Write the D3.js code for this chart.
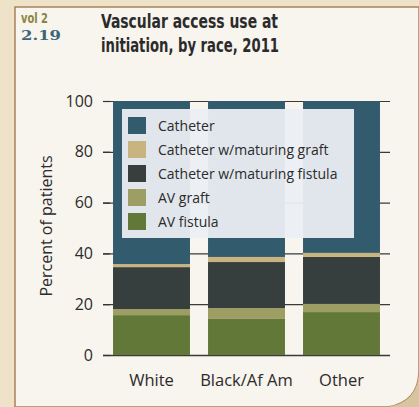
<!DOCTYPE html>
<html>
<head>
<meta charset="utf-8">
<script src="https://cdn.jsdelivr.net/npm/d3@7"></script>
<style>
  body { margin: 0; background: #eee2c9; }
  svg { display: block; }
</style>
</head>
<body>
<div id="chart"></div>
<script>
var races = ["White", "Black/Af Am", "Other"];
var series = ["AV fistula", "AV graft", "Catheter w/maturing fistula", "Catheter w/maturing graft", "Catheter"];
var avFistula = [15.7, 14.2, 16.9];
var avGraft = [2.4, 4.3, 3.2];
var cathFistula = [16.5, 18.1, 18.5];
var cathGraft = [1.2, 2.0, 1.6];
var catheter = [64.2, 61.4, 59.8];
var yTicks = [0, 20, 40, 60, 80, 100];

var colors = {
    "Catheter": "#335b6e",
    "Catheter w/maturing graft": "#c8b47f",
    "Catheter w/maturing fistula": "#363f3e",
    "AV graft": "#9c9e64",
    "AV fistula": "#627838"
};

var table = races.map(function(r, i) {
    return {
        race: r,
        "AV fistula": avFistula[i],
        "AV graft": avGraft[i],
        "Catheter w/maturing fistula": cathFistula[i],
        "Catheter w/maturing graft": cathGraft[i],
        "Catheter": catheter[i]
    };
});

var width = 419, height = 407;
var font = "Open Sans, sans-serif";

var svg = d3.select("#chart")
    .append("svg")
    .attr("width", width)
    .attr("height", height);

// panel with page curl corner
svg.append("path")
    .attr("d", "M15,7 H419 V372 Q418,402 388,407 H15 Z")
    .attr("fill", "#f8f4ee")
    .attr("stroke", "#a88258")
    .attr("stroke-width", 1.5);
svg.append("path")
    .attr("d", "M419,372 Q418,402 388,407 H419 Z")
    .attr("fill", "#d9c4a0");

// header
svg.append("text")
    .attr("x", 21).attr("y", 23)
    .attr("font-family", "DejaVu Sans Condensed, sans-serif")
    .attr("font-weight", "bold")
    .attr("font-size", 14)
    .attr("textLength", 27)
    .attr("lengthAdjust", "spacingAndGlyphs")
    .attr("fill", "#8a8640")
    .text("vol 2");
svg.append("text")
    .attr("x", 21).attr("y", 39.5)
    .attr("font-family", "DejaVu Serif, serif")
    .attr("font-weight", "bold")
    .attr("font-size", 13)
    .attr("textLength", 40)
    .attr("lengthAdjust", "spacingAndGlyphs")
    .attr("fill", "#3c6578")
    .text("2.19");

var title = svg.append("text")
    .attr("font-family", "DejaVu Sans Condensed, sans-serif")
    .attr("font-weight", "bold")
    .attr("font-size", 19)
    .attr("fill", "#2b2b2b");
title.append("tspan").attr("x", 101).attr("y", 28)
    .attr("textLength", 177).attr("lengthAdjust", "spacingAndGlyphs")
    .text("Vascular access use at");
title.append("tspan").attr("x", 101).attr("y", 52)
    .attr("textLength", 178).attr("lengthAdjust", "spacingAndGlyphs")
    .text("initiation, by race, 2011");

var x = d3.scaleBand()
    .domain(races)
    .range([104, 389])
    .paddingInner(0.19)
    .paddingOuter(0.095);

var y = d3.scaleLinear()
    .domain([0, 100])
    .range([355, 101]);

// gridlines behind bars
svg.append("g")
    .selectAll("line")
    .data(yTicks)
    .enter()
    .append("line")
    .attr("x1", 103)
    .attr("x2", 390)
    .attr("y1", function(d) { return y(d) + 0.5; })
    .attr("y2", function(d) { return y(d) + 0.5; })
    .attr("stroke", "#3a3a3a")
    .attr("stroke-width", function(d) { return d === 0 ? 1.5 : 1.2; });

var stack = d3.stack().keys(series);
var layers = stack(table);

svg.append("g")
    .selectAll("g")
    .data(layers)
    .enter()
    .append("g")
    .attr("fill", function(d) { return colors[d.key]; })
    .selectAll("rect")
    .data(function(d) { return d; })
    .enter()
    .append("rect")
    .attr("x", function(d) { return x(d.data.race); })
    .attr("width", x.bandwidth())
    .attr("y", function(d) { return y(d[1]); })
    .attr("height", function(d) { return y(d[0]) - y(d[1]); });

// y axis
var yAxis = svg.append("g")
    .attr("transform", "translate(110,0)")
    .call(d3.axisLeft(y).tickValues(yTicks).tickSize(7).tickPadding(10));
yAxis.select(".domain").remove();
yAxis.selectAll("line").attr("stroke", "#333").attr("stroke-width", 1.2);
yAxis.selectAll("text")
    .attr("font-family", font)
    .attr("font-size", 16)
    .attr("fill", "#2b2b2b");

// x labels
svg.append("g")
    .selectAll("text")
    .data(races)
    .enter()
    .append("text")
    .attr("x", function(d) { return x(d) + x.bandwidth() / 2; })
    .attr("y", 386)
    .attr("text-anchor", "middle")
    .attr("font-family", font)
    .attr("font-size", 16.5)
    .attr("fill", "#2b2b2b")
    .text(function(d) { return d; });

svg.append("text")
    .attr("transform", "translate(52,226) rotate(-90)")
    .attr("text-anchor", "middle")
    .attr("font-family", font)
    .attr("font-size", 16)
    .attr("fill", "#2b2b2b")
    .text("Percent of patients");

// legend
var legend = svg.append("g");
legend.append("rect")
    .attr("x", 122).attr("y", 109)
    .attr("width", 232).attr("height", 129)
    .attr("fill", "#ebeef2")
    .attr("opacity", 0.95);

var legendOrder = series.slice().reverse();
var item = legend.selectAll("g.item")
    .data(legendOrder)
    .enter()
    .append("g")
    .attr("class", "item")
    .attr("transform", function(d, i) { return "translate(128," + (117 + i * 24) + ")"; });
item.append("rect")
    .attr("width", 18).attr("height", 17)
    .attr("fill", function(d) { return colors[d]; });
item.append("text")
    .attr("x", 30).attr("y", 13.5)
    .attr("font-family", font)
    .attr("font-size", 14)
    .attr("fill", "#2b2b2b")
    .text(function(d) { return d; });
</script>
</body>
</html>
